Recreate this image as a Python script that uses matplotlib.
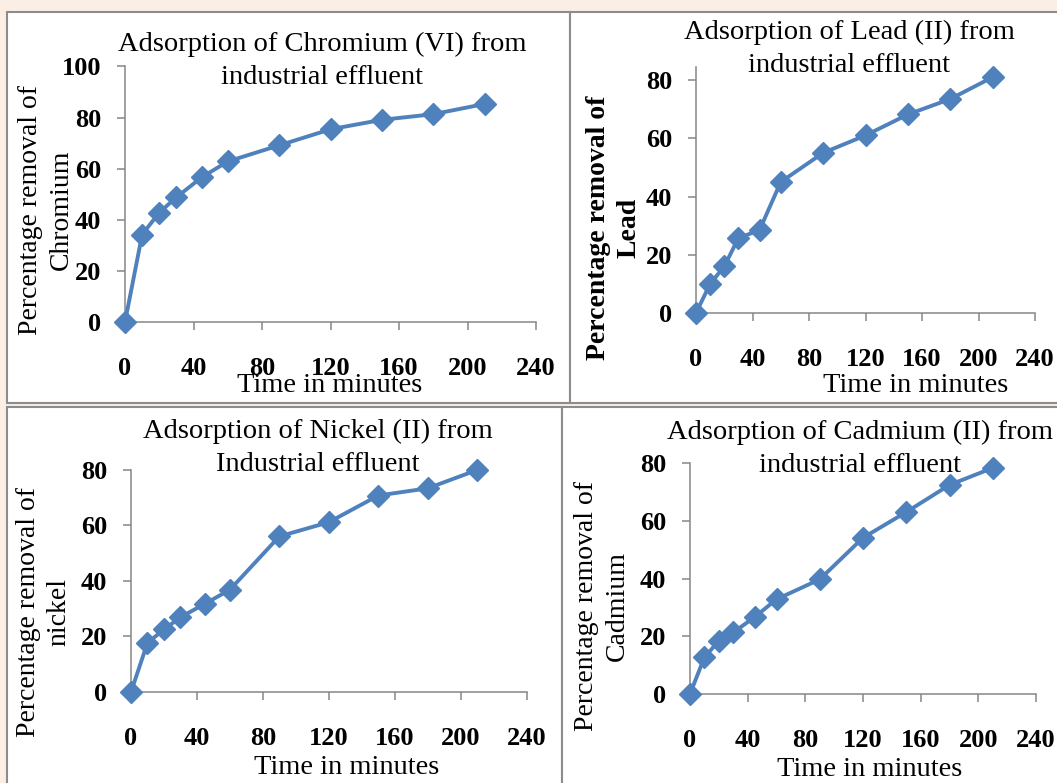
import matplotlib
matplotlib.use("Agg")
import matplotlib.pyplot as plt
from matplotlib.patches import Rectangle

plt.rcParams['font.family'] = ['Liberation Serif', 'DejaVu Serif']

W, H = 1057, 783

time_min = [0, 10, 20, 30, 45, 60, 90, 120, 150, 180, 210]
chromium = [0, 34.2, 42.8, 48.8, 56.7, 62.8, 69.1, 75.4, 79.1, 81.3, 85.3]
lead = [0, 10.0, 16.0, 25.7, 28.5, 45.0, 55.0, 61.0, 68.2, 73.5, 81.0]
nickel = [0, 17.7, 22.5, 26.9, 31.8, 36.8, 56.0, 61.1, 70.7, 73.3, 79.9]
cadmium = [0, 12.7, 18.4, 21.3, 26.7, 32.8, 39.7, 54.1, 63.0, 72.4, 78.3]

x_ticks = [0, 40, 80, 120, 160, 200, 240]

LINE = '#4F81BD'
AXIS = '#868686'


def px_rect(x0, y0, x1, y1):
    # pixel box (top-left origin) -> figure fraction [l, b, w, h]
    return [x0 / W, 1 - y1 / H, (x1 - x0) / W, (y1 - y0) / H]


fig = plt.figure(figsize=(W / 100, H / 100), dpi=100)
fig.patch.set_facecolor('#FBEEE5')

# white panel boxes
for x0, y0, x1, y1 in [(7, 12, 570, 403), (570, 12, 1060, 403),
                       (7, 407, 562, 790), (562, 407, 1060, 790)]:
    l, b, w, h = px_rect(x0, y0, x1, y1)
    fig.patches.append(Rectangle((l, b), w, h, transform=fig.transFigure,
                                 facecolor='white', edgecolor='#8C8C8C',
                                 linewidth=1.5, zorder=-5))


def panel(box, ylim, yticks, values, title, title_xy, ylabel, ylabel_xy,
          xlabel_xy, ylabel_bold=False):
    ax = fig.add_axes(px_rect(*box))
    ax.set_zorder(2)
    ax.patch.set_visible(False)
    ax.plot(time_min, values, '-D', color=LINE, lw=2.8, ms=11.5,
            clip_on=False, zorder=3)
    ax.set_xlim(0, 240)
    ax.set_ylim(*ylim)
    ax.set_xticks(x_ticks)
    ax.set_xticklabels([str(t) for t in x_ticks], fontweight='bold')
    ax.set_yticks(yticks)
    ax.set_yticklabels([str(t) for t in yticks], fontweight='bold')
    for s in ['top', 'right']:
        ax.spines[s].set_visible(False)
    for s in ['left', 'bottom']:
        ax.spines[s].set_color(AXIS)
        ax.spines[s].set_linewidth(1.1)
    ax.tick_params(axis='x', direction='out', length=6, width=1.1,
                   color=AXIS, pad=19, labelsize=19)
    ax.tick_params(axis='y', direction='out', length=6, width=1.1,
                   color=AXIS, pad=11, labelsize=19)
    fig.text(title_xy[0] / W, 1 - title_xy[1] / H, title, fontsize=20.5,
             ha='center', va='center', linespacing=1.45, zorder=4)
    fig.text(ylabel_xy[0] / W, 1 - ylabel_xy[1] / H, ylabel, fontsize=20,
             rotation=90, ha='center', va='center', multialignment='center',
             linespacing=1.3, zorder=4,
             fontweight='bold' if ylabel_bold else 'normal')
    fig.text(xlabel_xy[0] / W, 1 - xlabel_xy[1] / H, 'Time in minutes',
             fontsize=20.5, ha='center', va='center', zorder=4)
    return ax


panel((125, 66.4, 536, 322), (0, 100), [0, 20, 40, 60, 80, 100], chromium,
      'Adsorption of Chromium (VI) from\nindustrial effluent', (322, 61),
      'Percentage removal of\nChromium', (46, 210), (330, 385))

panel((696, 67, 1035, 313), (0, 84.5), [0, 20, 40, 60, 80], lead,
      'Adsorption of Lead (II) from\nindustrial effluent', (849, 49),
      'Percentage removal of\nLead', (614, 228), (916, 385), ylabel_bold=True)

panel((131, 469.7, 526.6, 692), (0, 80), [0, 20, 40, 60, 80], nickel,
      'Adsorption of Nickel (II) from\nIndustrial effluent', (318, 448),
      'Percentage removal of\nnickel', (44, 612), (347, 767))

panel((690, 463, 1036, 694), (0, 80), [0, 20, 40, 60, 80], cadmium,
      'Adsorption of Cadmium (II) from\nindustrial effluent', (860, 449),
      'Percentage removal of\nCadmium', (602, 606), (870, 770))

fig.savefig('out.png', dpi=100, facecolor=fig.get_facecolor())
